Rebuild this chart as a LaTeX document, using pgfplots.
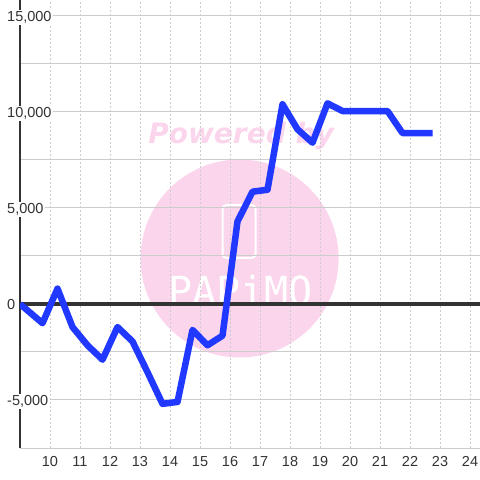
\documentclass[border=0pt]{standalone}
\usepackage{fontspec}
\setmainfont{Liberation Sans}
\newfontfamily\pbfont{DejaVu Sans}
\newfontfamily\logofont{DejaVu Sans Mono}
\usepackage{pgfplots}
\usepackage{pgfplotstable}
\pgfplotsset{compat=1.18}

\definecolor{lineblue}{RGB}{32,56,255}
\definecolor{wmpink}{RGB}{251,213,236}
\definecolor{gridgray}{RGB}{204,204,204}
\definecolor{axisdark}{RGB}{51,51,51}

% cumulative value over the day
\pgfplotstableread{
x      y
9      0
9.75   -1000
10.25  800
10.75  -1200
11.25  -2150
11.75  -2900
12.25  -1200
12.75  -1950
13.25  -3550
13.75  -5200
14.25  -5100
14.75  -1350
15.25  -2150
15.75  -1650
16.25  4300
16.75  5850
17.25  5950
17.75  10400
18.25  9100
18.75  8400
19.25  10450
19.75  10050
20.25  10050
20.75  10050
21.25  10050
21.75  8900
22.25  8900
22.75  8900
}\pnl

\begin{document}
\begin{tikzpicture}
\begin{axis}[
  name=ax, set layers,
  scale only axis, width=460pt, height=448pt,
  xmin=9, xmax=24.333, ymin=-7500, ymax=15833,
  axis x line*=bottom, axis y line*=left,
  x axis line style={draw=none},
  y axis line style={line width=2.7pt, color=axisdark},
  xtick={10,...,24},
  ytick={-5000,0,5000,10000,15000},
  yticklabels={{-5,000},{0},{5,000},{10,000},{15,000}},
  minor ytick={-7500,-2500,2500,7500,12500},
  major tick length=0pt, minor tick length=0pt,
  xmajorgrids, ymajorgrids, yminorgrids,
  x grid style={dash pattern=on 2pt off 2pt, color=gridgray, line width=1pt},
  y grid style={solid, color=gridgray, line width=1pt},
  minor y grid style={solid, color=gridgray, line width=1pt},
  tick label style={font=\fontsize{14.5}{16}\selectfont, color=axisdark},
  /pgf/number format/assume math mode=true,
  xticklabel style={anchor=north, inner sep=0pt, yshift=-8pt},
  yticklabel style={anchor=base west, inner sep=1.5pt, fill=white, xshift=-14.5pt, yshift=-5.2pt},
]
\begin{pgfonlayer}{axis background}
\fill[wmpink] (axis cs:16.32,2370) circle[radius=99pt];
\node[wmpink, font={\pbfont\bfseries\itshape\fontsize{28}{30}\selectfont}, anchor=base]
  at (axis cs:16.37,8370) {Powered by};
\draw[white, line width=2pt, rounded corners=4pt]
  (axis cs:16.32,2370) ++(-17pt,0.5pt) rectangle ++(33pt,53pt);
\node[white, font={\logofont\fontsize{40}{40}\selectfont}, anchor=center,
  xshift=1pt, yshift=-32.5pt] at (axis cs:16.32,2370) {PAPiMO};
\end{pgfonlayer}

\draw[axisdark, line width=3.3pt] (axis cs:9,0) -- (axis cs:24.333,0);
\addplot[lineblue, line width=6.5pt, line join=round] table {\pnl};
\end{axis}
\pgfresetboundingbox
\path[use as bounding box] ([shift={(-20pt,-32pt)}]ax.south west) rectangle (ax.north east);
\end{tikzpicture}
\end{document}
